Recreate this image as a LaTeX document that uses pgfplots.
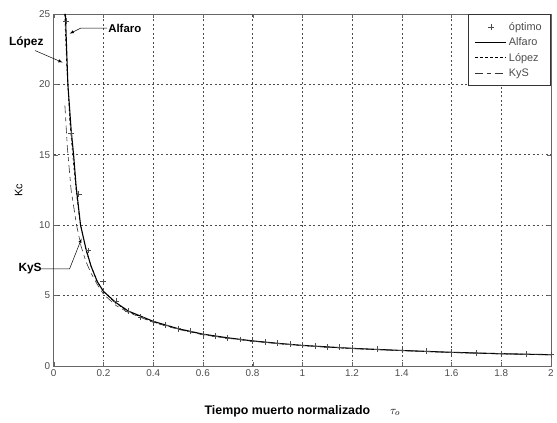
\documentclass[border=0pt]{standalone}
\usepackage{pgfplots}
\pgfplotsset{compat=1.18}
\usepackage{fontspec}
\setmainfont{Liberation Sans}
\pgfplotsset{
  longline/.style={legend image code/.code={\draw[##1] (0cm,0cm) -- (1.1cm,0cm);}},
  plusleg/.style={legend image code/.code={\draw[##1] plot coordinates {(0.55cm,0cm)};}}
}
\begin{document}
\begin{tikzpicture}
\begin{axis}[
  scale only axis, width=500bp, height=354bp,
  xmin=0, xmax=2, ymin=0, ymax=25,
  xtick={0,0.2,...,2}, ytick={0,5,...,25},
  xticklabels={0,0.2,0.4,0.6,0.8,1,1.2,1.4,1.6,1.8,2},
  /pgf/number format/assume math mode=true,
  tick label style={font=\fontsize{10}{11}\selectfont, text=black!70},
  grid=major,
  major grid style={black!70, dash pattern=on 2bp off 2.5bp, line width=0.5pt},
  axis line style={black!60, line width=0.8pt},
  tick style={black!60},
  tick align=inside,
  xtick pos=both, ytick pos=both,
  xlabel={\bfseries Tiempo muerto normalizado\hspace{1.6em}$\tau_o$},
  ylabel={Kc},
  xlabel style={font=\fontsize{12.5}{14}\selectfont, yshift=-22bp},
  ylabel style={font=\fontsize{11}{12}\selectfont, yshift=10bp},
  clip=false,
  legend style={at={(rel axis cs:1,1)}, anchor=north east, draw=black!80, line width=0.7pt,
    font=\fontsize{11}{12}\selectfont, text=black!70, inner xsep=7pt, inner ysep=6pt, row sep=2pt,
    cells={anchor=west}},
  legend cell align=left,
]
\addplot[only marks, mark=+, mark size=3pt, black!70, line width=0.5pt, plusleg] coordinates {
(0.05,24.5) (0.07,16.5) (0.1,12.2) (0.14,8.2) (0.2,6.0) (0.25,4.6) (0.3,3.9) (0.35,3.45)
(0.4,3.15) (0.45,2.9) (0.5,2.65) (0.55,2.45) (0.6,2.27) (0.65,2.12) (0.7,2.0) (0.75,1.88)
(0.8,1.78) (0.85,1.7) (0.9,1.62) (0.95,1.55) (1.0,1.47) (1.05,1.42) (1.1,1.36) (1.15,1.32)
(1.2,1.27) (1.3,1.18) (1.4,1.1) (1.5,1.03) (1.6,0.97) (1.7,0.92) (1.8,0.87) (1.9,0.83) (2.0,0.8)};
\addlegendentry{óptimo}
\addplot[black, line width=1.1pt, longline] coordinates {
(0.047,25) (0.057,20) (0.07,16.8) (0.08,15) (0.09,12.8) (0.108,10) (0.13,8.3) (0.15,7.1)
(0.175,6.0) (0.2,5.3) (0.25,4.5) (0.3,3.9) (0.4,3.17) (0.5,2.65) (0.6,2.26) (0.7,2.0)
(0.8,1.78) (0.9,1.61) (1.0,1.46) (1.2,1.25) (1.4,1.1) (1.6,0.97) (1.8,0.87) (2.0,0.8)};
\addlegendentry{Alfaro}
\addplot[black, line width=0.6pt, dash pattern=on 2.5bp off 2.5bp, longline] coordinates {
(0.044,25) (0.052,21.5) (0.065,17.3) (0.08,14.3) (0.09,12.5) (0.105,10.3) (0.13,8.2) (0.15,7.1)
(0.175,6.0) (0.2,5.3) (0.25,4.45) (0.3,3.85) (0.4,3.12) (0.5,2.62) (0.6,2.24) (0.7,1.98)
(0.8,1.77) (0.9,1.6) (1.0,1.45) (1.2,1.24) (1.4,1.09) (1.6,0.96) (1.8,0.86) (2.0,0.79)};
\addlegendentry{López}
\addplot[black!80, line width=0.6pt, dash pattern=on 8bp off 4bp on 4bp off 4bp, longline] coordinates {
(0.045,18.5) (0.055,15.5) (0.07,12.5) (0.092,10.0) (0.11,8.5) (0.13,7.4) (0.15,6.6)
(0.175,5.8) (0.2,5.1) (0.25,4.3) (0.3,3.8) (0.4,3.1) (0.5,2.6) (0.6,2.22) (0.7,1.96)
(0.8,1.76) (0.9,1.59) (1.0,1.44) (1.2,1.24) (1.4,1.09) (1.6,0.96) (1.8,0.86) (2.0,0.79)};
\addlegendentry{KyS}
% annotations
\node[font=\fontsize{11.5}{12}\selectfont\bfseries, anchor=west, inner sep=1pt] at (axis cs:0.215,24.0) {Alfaro};
\draw[black, line width=0.5pt, -latex] (axis cs:0.215,24.0) -- (axis cs:0.11,24.0) -- (axis cs:0.064,23.6);
\node[font=\fontsize{12}{13}\selectfont\bfseries, anchor=center] at (axis cs:-0.11,23.0) {López};
\draw[black, line width=0.5pt, -latex] (axis cs:-0.075,22.4) -- (axis cs:0.036,21.55);
\node[font=\fontsize{12}{13}\selectfont\bfseries, anchor=center] at (axis cs:-0.095,6.9) {KyS};
\draw[black, line width=0.5pt, -latex] (axis cs:-0.055,6.9) -- (axis cs:0.064,6.9) -- (axis cs:0.112,9.05);
\end{axis}
\path ([xshift=-54bp,yshift=-57bp]current axis.south west) rectangle ([xshift=2bp,yshift=14bp]current axis.north east);
\end{tikzpicture}
\end{document}
